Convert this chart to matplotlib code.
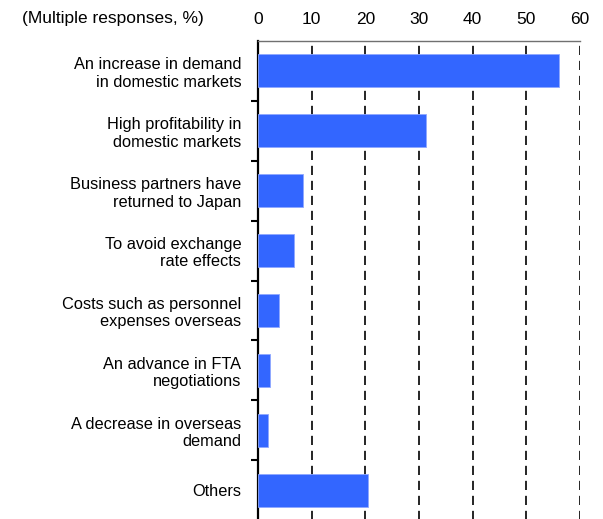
import numpy as np
import matplotlib.pyplot as plt
from matplotlib.ticker import FixedLocator

plt.rcParams['font.family'] = ['Liberation Sans', 'DejaVu Sans']

categories = [
    'An increase in demand\nin domestic markets',
    'High profitability in\ndomestic markets',
    'Business partners have\nreturned to Japan',
    'To avoid exchange\nrate effects',
    'Costs such as personnel\nexpenses overseas',
    'An advance in FTA\nnegotiations',
    'A decrease in overseas\ndemand',
    'Others',
]
values = [56.0, 31.3, 8.4, 6.8, 4.0, 2.2, 1.9, 20.5]
xticks = [0, 10, 20, 30, 40, 50, 60]

fig = plt.figure(figsize=(6.03, 5.19), dpi=100)
ax = fig.add_axes([258 / 603, -0.002, (580 - 258) / 603, 1 - 41 / 519 + 0.002])

y = np.arange(len(categories))
ax.barh(y, values, height=0.55, color='#3366FF', edgecolor='#8FA8FF', linewidth=0.6, zorder=3)

ax.set_xlim(0, 60)
ax.set_ylim(len(categories) - 0.5, -0.5)

ax.xaxis.tick_top()
ax.set_xticks(xticks)
ax.tick_params(axis='x', length=0, pad=10, labelsize=12.5)
for v in xticks[1:]:
    ax.axvline(v, color='black', lw=1.2, ls=(0, (5.5, 3.5)), zorder=2)

ax.set_yticks(y)
ax.set_yticklabels(categories, fontsize=11.8, linespacing=1.2)
ax.tick_params(axis='y', which='major', length=0, pad=12)
ax.yaxis.set_minor_locator(FixedLocator(np.arange(0.5, len(categories) - 0.5, 1)))
ax.tick_params(axis='y', which='minor', length=5, width=1.5, color='black', direction='out')

for s in ['right', 'bottom']:
    ax.spines[s].set_visible(False)
ax.spines['left'].set_linewidth(1.6)
ax.spines['left'].set_color('black')
ax.spines['top'].set_linewidth(1.0)
ax.spines['top'].set_color('#707070')

fig.text(22 / 603, 1 - 18 / 519, '(Multiple responses, %)', fontsize=12.5, va='center', ha='left')

fig.savefig('out.png', dpi=100)
